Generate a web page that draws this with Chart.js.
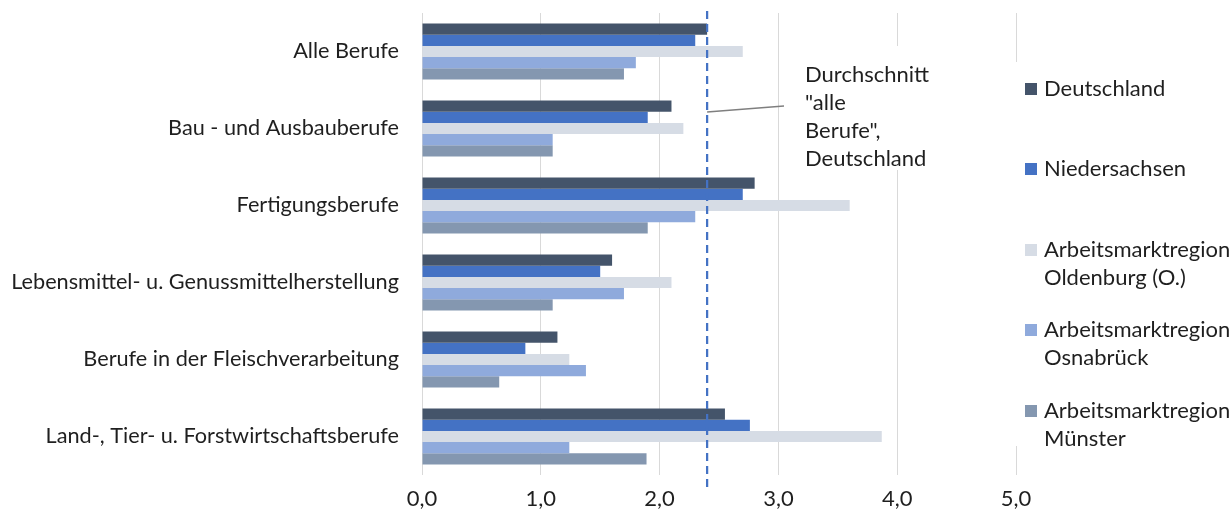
<!DOCTYPE html>
<html>
<head>
<meta charset="utf-8">
<script src="https://cdn.jsdelivr.net/npm/chart.js@4.4.1/dist/chart.umd.min.js"></script>
<style>
    html, body { margin: 0; padding: 0; background: #ffffff; }
    #wrap { position: relative; width: 1230px; height: 515px; }
</style>
</head>
<body>
<div id="wrap"><canvas id="chart"></canvas></div>
<script>
const categories = [
    'Alle Berufe',
    'Bau - und Ausbauberufe',
    'Fertigungsberufe',
    'Lebensmittel- u. Genussmittelherstellung',
    'Berufe in der Fleischverarbeitung',
    'Land-, Tier- u. Forstwirtschaftsberufe'
];
const seriesNames = [
    ['Deutschland'],
    ['Niedersachsen'],
    ['Arbeitsmarktregion', 'Oldenburg (O.)'],
    ['Arbeitsmarktregion', 'Osnabrück'],
    ['Arbeitsmarktregion', 'Münster']
];
const deutschland = [2.4, 2.1, 2.8, 1.6, 1.14, 2.55];
const niedersachsen = [2.3, 1.9, 2.7, 1.5, 0.87, 2.76];
const oldenburg = [2.7, 2.2, 3.6, 2.1, 1.24, 3.87];
const osnabrueck = [1.8, 1.1, 2.3, 1.7, 1.38, 1.24];
const muenster = [1.7, 1.1, 1.9, 1.1, 0.65, 1.89];
const xTicks = [0, 1, 2, 3, 4, 5];
const averageAll = 2.4;
const averageText = ['Durchschnitt', '"alle', 'Berufe",', 'Deutschland'];

const colors = ['#44546A', '#4472C4', '#D6DCE5', '#8FAADC', '#8497B0'];
const textColor = '#1f1f1f';
const fontFamily = 'Lato, "Open Sans", sans-serif';
const fontSize = 22;

// dashed average line, annotation box and the legend on the right
const overlayPlugin = {
    id: 'overlay',
    afterDatasetsDraw: function (chart) {
        const ctx = chart.ctx;
        const x = chart.scales.x.getPixelForValue(averageAll);
        const area = chart.chartArea;

        ctx.save();
        ctx.strokeStyle = '#4472C4';
        ctx.lineWidth = 2.25;
        ctx.setLineDash([8, 5]);
        ctx.beginPath();
        ctx.moveTo(x, area.top - 2);
        ctx.lineTo(x, area.bottom + 14);
        ctx.stroke();
        ctx.restore();

        // leader line to the text
        ctx.save();
        ctx.strokeStyle = '#7F7F7F';
        ctx.lineWidth = 1.5;
        ctx.beginPath();
        ctx.moveTo(x, 112);
        ctx.lineTo(784, 106);
        ctx.stroke();

        ctx.fillStyle = '#ffffff';
        ctx.fillRect(795, 46, 140, 124);
        ctx.fillStyle = textColor;
        ctx.font = fontSize + 'px ' + fontFamily;
        ctx.textBaseline = 'middle';
        ctx.textAlign = 'left';
        averageText.forEach(function (line, i) {
            ctx.fillText(line, 805, 75 + i * 28);
        });

        // legend
        ctx.fillStyle = '#ffffff';
        ctx.fillRect(1010, 62, 220, 384);
        const rows = [89, 169, 250, 330, 411];
        chart.data.datasets.forEach(function (ds, i) {
            ctx.fillStyle = ds.backgroundColor;
            ctx.fillRect(1025, rows[i] - 6, 12, 12);
            ctx.fillStyle = textColor;
            seriesNames[i].forEach(function (line, j) {
                ctx.fillText(line, 1044, rows[i] + j * 28);
            });
        });
        ctx.restore();
    }
};

const datasets = [deutschland, niedersachsen, oldenburg, osnabrueck, muenster].map(function (values, i) {
    return {
        label: seriesNames[i].join(' '),
        data: values,
        backgroundColor: colors[i],
        borderWidth: 0,
        barPercentage: 1,
        categoryPercentage: 0.73
    };
});

new Chart(document.getElementById('chart'), {
    type: 'bar',
    data: { labels: categories, datasets: datasets },
    options: {
        indexAxis: 'y',
        responsive: true,
        maintainAspectRatio: false,
        animation: false,
        layout: { padding: { top: 13, right: 214, left: 0, bottom: 0 } },
        plugins: {
            legend: { display: false },
            tooltip: { enabled: false }
        },
        scales: {
            x: {
                min: 0,
                max: 5,
                afterBuildTicks: function (scale) {
                    scale.ticks = xTicks.map(function (v) { return { value: v }; });
                },
                afterFit: function (scale) {
                    scale.height = 40;
                    scale.paddingLeft = 0;
                    scale.paddingRight = 0;
                },
                grid: { color: '#D9D9D9', lineWidth: 1, drawTicks: false },
                border: { display: false },
                ticks: {
                    color: textColor,
                    padding: 11,
                    font: { family: fontFamily, size: fontSize },
                    callback: function (value) { return value.toFixed(1).replace('.', ','); }
                }
            },
            y: {
                afterFit: function (scale) {
                    scale.width = 422;
                    scale.paddingTop = 0;
                    scale.paddingBottom = 0;
                },
                grid: { display: false },
                border: { display: false },
                ticks: {
                    color: textColor,
                    padding: 15,
                    font: { family: fontFamily, size: 21.7 }
                }
            }
        }
    },
    plugins: [overlayPlugin]
});
</script>
</body>
</html>
